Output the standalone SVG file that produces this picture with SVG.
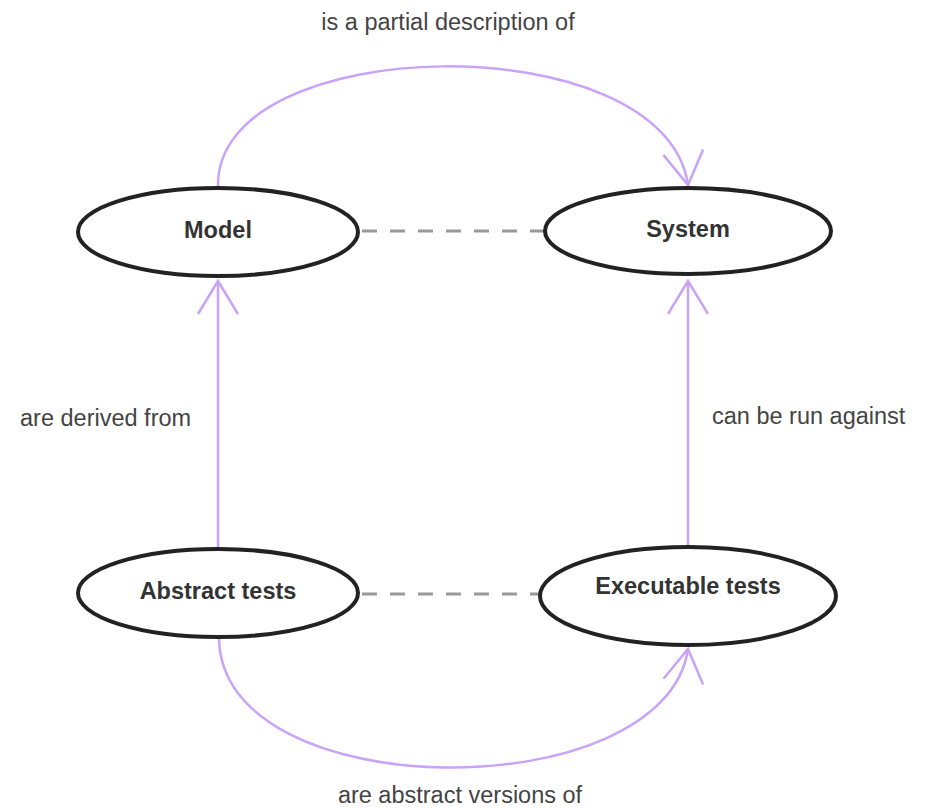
<svg xmlns="http://www.w3.org/2000/svg" width="925" height="808" viewBox="0 0 925 808">
<style>
.node{fill:#fff;stroke:#222;stroke-width:4}
.nt{font-family:"Liberation Sans",Arial,sans-serif;font-weight:bold;font-size:23.5px;fill:#333;text-anchor:middle}
.lbl{font-family:"Liberation Sans",Arial,sans-serif;font-size:23.5px;fill:#444}
.arr{fill:none;stroke:#c9a3f7;stroke-width:2.5}
.dash{fill:none;stroke:#999;stroke-width:3;stroke-dasharray:15 13}
</style>
<defs>
<marker id="ah" markerUnits="userSpaceOnUse" markerWidth="50" markerHeight="50" viewBox="-40 -25 45 50" refX="0" refY="0" orient="auto">
<path d="M-33,-20 L0,0 L-33,20" fill="none" stroke="#c9a3f7" stroke-width="2.5"/>
</marker>
</defs>
<rect width="925" height="808" fill="#fff"/>
<g id="connectors">
<line class="dash" x1="362" y1="231" x2="545" y2="231"/>
<line class="dash" x1="362" y1="594" x2="540" y2="594"/>
<path class="arr" d="M218,187 C214,30 665,23 688,185" marker-end="url(#ah)"/>
<path class="arr" d="M219,637 C219,809 665,809 688,649" marker-end="url(#ah)"/>
<line class="arr" x1="218" y1="550" x2="218" y2="281" marker-end="url(#ah)"/>
<line class="arr" x1="688" y1="547" x2="688" y2="281" marker-end="url(#ah)"/>
<text class="lbl" x="448" y="30" text-anchor="middle">is a partial description of</text>
<text class="lbl" x="20" y="426">are derived from</text>
<text class="lbl" x="712" y="424">can be run against</text>
<text class="lbl" x="460" y="803" text-anchor="middle">are abstract versions of</text>
</g>
<g id="model">
<ellipse class="node" cx="218" cy="232" rx="140" ry="44"/>
<text class="nt" x="218" y="238">Model</text>
</g>
<g id="system">
<ellipse class="node" cx="688" cy="231" rx="143" ry="43"/>
<text class="nt" x="688" y="237">System</text>
</g>
<g id="abstract-tests">
<ellipse class="node" cx="218" cy="593" rx="140" ry="44"/>
<text class="nt" x="218" y="599">Abstract tests</text>
</g>
<g id="executable-tests">
<ellipse class="node" cx="688" cy="596" rx="148" ry="49"/>
<text class="nt" x="688" y="594">Executable tests</text>
</g>
</svg>
